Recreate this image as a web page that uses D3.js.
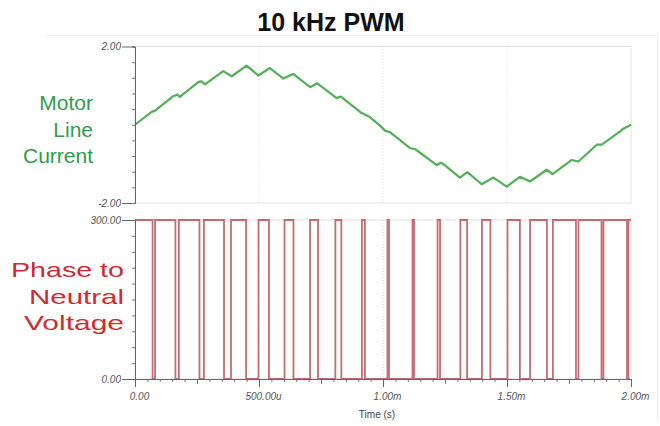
<!DOCTYPE html>
<html>
<head>
<meta charset="utf-8">
<script src="https://cdn.jsdelivr.net/npm/d3@7"></script>
<style>
  body { margin: 0; background: #fff; }
  text { font-family: Arial, "Liberation Sans", sans-serif; }
</style>
</head>
<body>
<div id="chart"></div>
<script>
// motor current (time in ms, amps)
var currentT = [0, 0.067, 0.081, 0.154, 0.171, 0.181, 0.255, 0.269, 0.282, 0.356, 0.390, 0.450, 0.497, 0.544, 0.598, 0.638, 0.706, 0.735, 0.813, 0.830, 0.914, 0.927, 0.948, 0.988, 1.008, 1.028, 1.109, 1.129, 1.217, 1.233, 1.250, 1.310, 1.340, 1.398, 1.445, 1.499, 1.552, 1.593, 1.660, 1.684, 1.761, 1.788, 1.862, 1.882, 1.956, 1.969, 2.0];
var currentA = [0, 0.33, 0.36, 0.73, 0.77, 0.71, 1.09, 1.11, 1.03, 1.37, 1.24, 1.51, 1.26, 1.45, 1.18, 1.30, 0.96, 1.06, 0.68, 0.72, 0.30, 0.26, 0.19, -0.02, -0.15, -0.19, -0.60, -0.62, -1.03, -0.97, -1.04, -1.35, -1.21, -1.52, -1.35, -1.58, -1.33, -1.45, -1.15, -1.26, -0.90, -0.94, -0.51, -0.51, -0.17, -0.10, 0];

// PWM switching instants (ms): output goes high at pwmOn[i], low at pwmOff[i]
var pwmOn  = [0, 0.081, 0.177, 0.278, 0.387, 0.498, 0.603, 0.706, 0.808, 0.915, 1.018, 1.119, 1.220, 1.312, 1.399, 1.502, 1.593, 1.685, 1.788, 1.889, 1.990];
var pwmOff = [0.071, 0.163, 0.260, 0.359, 0.448, 0.540, 0.639, 0.738, 0.832, 0.927, 1.024, 1.125, 1.230, 1.339, 1.433, 1.552, 1.661, 1.778, 1.881, 1.984, 2.0];
var vHigh = 300, vLow = 0;

var xTicks = [0, 0.5, 1, 1.5, 2];
var xTickLabels = ["0.00", "500.00u", "1.00m", "1.50m", "2.00m"];
var topTicks = [-2, 2];
var topTickLabels = ["-2.00", "2.00"];
var botTicks = [0, 300];
var botTickLabels = ["0.00", "300.00"];

var W = 660, H = 426;
var svg = d3.select("#chart").append("svg")
    .attr("width", W)
    .attr("height", H);

var x = d3.scaleLinear().domain([0, 2]).range([135, 631]);
var yTop = d3.scaleLinear().domain([-2, 2]).range([203, 46.5]);
var yBot = d3.scaleLinear().domain([0, 300]).range([379, 220]);

// faint outer frame (top + right only)
svg.append("path")
    .attr("d", "M47,35.5H657.5V420")
    .attr("fill", "none")
    .attr("stroke", "#ececec");

// title
svg.append("text")
    .attr("x", 331).attr("y", 31)
    .attr("text-anchor", "middle")
    .style("font-size", "25px")
    .style("font-weight", "bold")
    .attr("fill", "#111")
    .text("10 kHz PWM");

// panel frames
[yTop, yBot].forEach(function(y) {
  svg.append("rect")
    .attr("x", x(0)).attr("y", y.range()[1])
    .attr("width", x(2) - x(0))
    .attr("height", y.range()[0] - y.range()[1])
    .attr("fill", "none")
    .attr("stroke", "#e2e2e2");
  // dotted vertical grid
  svg.append("g").selectAll("line")
    .data(xTicks.slice(1, 4))
    .enter().append("line")
    .attr("x1", function(d) { return x(d); })
    .attr("x2", function(d) { return x(d); })
    .attr("y1", y.range()[1]).attr("y2", y.range()[0])
    .attr("stroke", "#d6d6d6")
    .attr("stroke-dasharray", "1,2");
});

// current trace
var curData = currentT.map(function(t, i) { return [t, currentA[i]]; });
svg.append("path")
    .datum(curData)
    .attr("fill", "none")
    .attr("stroke", "#52b058")
    .attr("stroke-width", 2.2)
    .attr("stroke-linejoin", "round")
    .attr("d", d3.line()
      .x(function(d) { return x(d[0]); })
      .y(function(d) { return yTop(d[1]); }));

// PWM trace as steps
var pwmData = [];
pwmOn.forEach(function(t, i) {
  if (i > 0) pwmData.push([t, vLow]);
  pwmData.push([t, vHigh]);
  pwmData.push([pwmOff[i], vHigh]);
  if (pwmOff[i] < 2) pwmData.push([pwmOff[i], vLow]);
});
svg.append("path")
    .datum(pwmData)
    .attr("fill", "none")
    .attr("stroke", "#b9474d")
    .attr("stroke-width", 1.8)
    .attr("stroke-opacity", 0.8)
    .attr("d", d3.line()
      .x(function(d) { return x(d[0]); })
      .y(function(d) { return yBot(d[1]); }));

// y axes
function yAxis(y, ticks, labels) {
  var d = y.domain();
  var minor = d3.range(0, 11).map(function(i) { return d[0] + (d[1] - d[0]) * i / 10; });
  svg.append("g")
    .attr("transform", "translate(" + x(0) + ",0)")
    .call(d3.axisLeft(y).tickValues(minor).tickSize(3).tickFormat(""))
    .call(function(g) { g.selectAll("line,path").attr("stroke", "#777"); });
  var g = svg.append("g")
    .attr("transform", "translate(" + x(0) + ",0)")
    .call(d3.axisLeft(y).tickValues(ticks).tickSize(13).tickSizeOuter(0)
      .tickFormat(function(v, i) { return labels[i]; }));
  g.select(".domain").attr("stroke", "#666");
  g.selectAll("line").attr("stroke", "#666");
  g.selectAll("text")
    .style("font-size", "10px").style("font-style", "italic")
    .attr("fill", "#555").attr("dx", 2);
}
yAxis(yTop, topTicks, topTickLabels);
yAxis(yBot, botTicks, botTickLabels);

// x axis
var xMinor = d3.range(0, 41).map(function(i) { return i * 0.05; });
var xMid = [0.25, 0.75, 1.25, 1.75];
svg.append("g")
  .attr("transform", "translate(0," + yBot(0) + ")")
  .call(d3.axisBottom(x).tickValues(xMinor).tickSize(3).tickFormat(""))
  .call(function(g) { g.selectAll("line,path").attr("stroke", "#777"); });
svg.append("g")
  .attr("transform", "translate(0," + yBot(0) + ")")
  .call(d3.axisBottom(x).tickValues(xMid).tickSize(5).tickFormat(""))
  .call(function(g) { g.select(".domain").remove(); g.selectAll("line").attr("stroke", "#777"); });
var gx = svg.append("g")
  .attr("transform", "translate(0," + yBot(0) + ")")
  .call(d3.axisBottom(x).tickValues(xTicks).tickSize(8).tickSizeOuter(0)
    .tickFormat(function(v, i) { return xTickLabels[i]; }));
gx.select(".domain").attr("stroke", "#666");
gx.selectAll("line").attr("stroke", "#666");
gx.selectAll("text")
  .style("font-size", "10px").style("font-style", "italic")
  .attr("fill", "#555").attr("dx", 4).attr("y", 14);

svg.append("text")
  .attr("x", 377).attr("y", 418)
  .attr("text-anchor", "middle")
  .style("font-size", "10px")
  .attr("fill", "#444")
  .text("Time (s)");

// side labels
var greenLines = ["Motor", "Line", "Current"];
var redLines = ["Phase to", "Neutral", "Voltage"];
var redWidths = [113, 95, 100];
svg.append("g").selectAll("text")
  .data(greenLines).enter().append("text")
  .attr("x", 93)
  .attr("y", function(d, i) { return 110 + i * 26.5; })
  .attr("text-anchor", "end")
  .style("font-size", "21px")
  .attr("fill", "#2f9d4a")
  .text(function(d) { return d; });
svg.append("g").selectAll("text")
  .data(redLines).enter().append("text")
  .attr("x", 124)
  .attr("y", function(d, i) { return 277 + i * 26.5; })
  .attr("text-anchor", "end")
  .attr("textLength", function(d, i) { return redWidths[i]; })
  .attr("lengthAdjust", "spacingAndGlyphs")
  .style("font-size", "21px")
  .attr("fill", "#cf2b2e")
  .text(function(d) { return d; });
</script>
</body>
</html>
